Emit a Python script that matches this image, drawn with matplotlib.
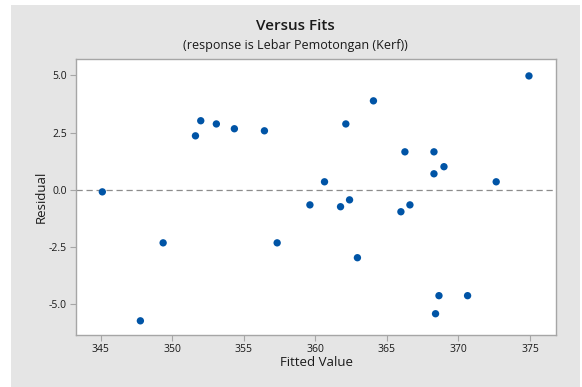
import matplotlib.pyplot as plt
from matplotlib.patches import Rectangle

plt.rcParams.update({
    'font.family': ['Open Sans', 'DejaVu Sans'],
    'font.size': 8,
})

# fitted values and residuals
fitted = [345.11, 347.77, 349.36, 351.62, 351.99, 353.08, 354.34, 356.44,
          357.33, 359.62, 360.64, 361.76, 362.13, 362.39, 362.94, 364.06,
          365.98, 366.26, 366.61, 368.29, 368.29, 368.40, 368.64, 368.99,
          370.64, 372.64, 374.93]
residual = [-0.09, -5.73, -2.32, 2.36, 3.02, 2.88, 2.67, 2.58,
            -2.32, -0.66, 0.35, -0.74, 2.88, -0.44, -2.97, 3.89,
            -0.96, 1.66, -0.66, 1.66, 0.70, -5.42, -4.63, 1.01,
            -4.63, 0.35, 4.98]
xticks = [345, 350, 355, 360, 365, 370, 375]
yticks = [-5.0, -2.5, 0.0, 2.5, 5.0]

W, H = 582, 387
fig = plt.figure(figsize=(W / 100, H / 100), dpi=100, facecolor='white')
fig.patches.append(Rectangle((11 / W, 0), (580 - 11) / W, (H - 5) / H,
                             transform=fig.transFigure, facecolor='#e5e5e5',
                             edgecolor='none', zorder=-5))

ax = fig.add_axes([76 / W, 1 - 335 / H, (556 - 76) / W, (335 - 59) / H])
ax.set_zorder(2)
ax.set_facecolor('white')
ax.axhline(0, color='#8c8c8c', linestyle=(0, (5, 3)), linewidth=0.9, zorder=1)
ax.scatter(fitted, residual, s=28, color='#0054a6', edgecolors='none', zorder=3)

ax.set_xlim(343.27, 376.82)
ax.set_ylim(-6.35, 5.72)
ax.set_xticks(xticks)
ax.set_yticks(yticks)
ax.set_yticklabels([f'{v:.1f}' for v in yticks])
for s in ax.spines.values():
    s.set_color('#a6a6a6')
    s.set_linewidth(1.0)
ax.tick_params(direction='out', length=4, width=0.8, color='#a6a6a6',
               labelsize=7.5, labelcolor='#1a1a1a', pad=2.5)

ax.set_xlabel('Fitted Value', fontsize=9.5, color='#1a1a1a', labelpad=1)
ax.set_ylabel('Residual', fontsize=9.5, color='#1a1a1a', labelpad=1)

cx = (11 + 580) / 2 / W
fig.text(cx, 1 - 26 / H, 'Versus Fits', ha='center', va='center',
         fontsize=11, fontweight='semibold', color='#1a1a1a')
fig.text(cx, 1 - 45 / H, '(response is Lebar Pemotongan (Kerf))',
         ha='center', va='center', fontsize=9, color='#1a1a1a')

fig.savefig('out.png', dpi=100, facecolor='white')
